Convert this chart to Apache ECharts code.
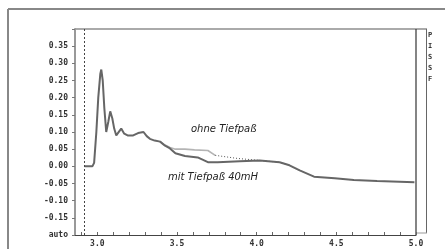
<!DOCTYPE html>
<html><head><meta charset="utf-8">
<script src="https://cdn.jsdelivr.net/npm/echarts@6/dist/echarts.min.js"></script>
<style>html,body{margin:0;padding:0;background:#fff}#c{width:445px;height:249px}</style>
</head><body><div id="c"></div>
<script>
// Data
var mitX = [2.92,2.969,2.98,2.994,3.006,3.019,3.025,3.034,3.044,3.056,3.069,3.081,3.094,3.106,3.119,3.131,3.15,3.169,3.19,3.225,3.256,3.29,3.31,3.33,3.36,3.394,3.425,3.456,3.49,3.55,3.63,3.694,3.756,3.894,4.019,4.144,4.206,4.27,4.36,4.49,4.61,4.756,4.99];
var mitY = [0.0,0.0,0.01,0.10,0.20,0.27,0.282,0.25,0.17,0.10,0.13,0.16,0.14,0.11,0.09,0.095,0.11,0.095,0.09,0.09,0.097,0.10,0.088,0.08,0.075,0.072,0.06,0.052,0.038,0.03,0.026,0.012,0.012,0.015,0.017,0.012,0.003,-0.012,-0.03,-0.035,-0.04,-0.043,-0.046];
var ohneX = [3.394,3.425,3.456,3.49,3.55,3.61,3.694,3.74];
var ohneY = [0.072,0.062,0.055,0.05,0.05,0.048,0.046,0.032];
var dotX = [3.74,3.88,4.0,4.14,4.2];
var dotY = [0.032,0.023,0.018,0.012,0.004];
var xLabels = [3.0,3.5,4.0,4.5,5.0];
var xTicks = [2.9,3.0,3.1,3.2,3.3,3.4,3.5,3.6,3.7,3.8,3.9,4.0,4.1,4.2,4.3,4.4,4.5,4.6,4.7,4.8,4.9,5.0];
var noteOhne = 'ohne Tiefpaß';
var noteMit = 'mit Tiefpaß 40mH';

function pairs(xs, ys){ return xs.map(function(x,i){ return [x, ys[i]]; }); }

var chart = echarts.init(document.getElementById('c'), null, {renderer:'canvas'});
var lblFont = {fontFamily:'DejaVu Sans Mono', fontWeight:'bold', fontSize:8, color:'#333'};
chart.setOption({
  animation:false,
  backgroundColor:'#fff',
  grid:{left:75,right:29,top:29,bottom:14,containLabel:false},
  xAxis:{type:'value',min:2.86,max:5.0,
    axisLine:{show:true,onZero:false,lineStyle:{color:'#444',width:1.2}},
    axisTick:{show:true,inside:true,length:3,customValues:xTicks,lineStyle:{color:'#666'}},
    axisLabel:Object.assign({customValues:xLabels,margin:5,formatter:function(v){return v.toFixed(1);}},lblFont),
    splitLine:{show:false}},
  yAxis:{type:'value',min:-0.2,max:0.4,interval:0.05,
    axisLine:{show:true,onZero:false,lineStyle:{color:'#999',width:2}},
    axisTick:{show:true,length:3,lineStyle:{color:'#777'}},
    axisLabel:Object.assign({margin:7,formatter:function(v){
      if (Math.abs(v+0.2)<1e-6) return 'auto';
      if (Math.abs(v-0.4)<1e-6) return '';
      return v.toFixed(2);
    }},lblFont),
    splitLine:{show:false}},
  series:[
    {type:'line',data:pairs(ohneX,ohneY),symbol:'none',lineStyle:{color:'#b4b4b4',width:1.6},z:2},
    {type:'line',data:pairs(dotX,dotY),symbol:'none',lineStyle:{color:'#555',width:1,type:[1,2]},z:2},
    {type:'line',data:pairs(mitX,mitY),symbol:'none',lineStyle:{color:'#666',width:2},z:3,
      markLine:{silent:true,symbol:'none',label:{show:false},lineStyle:{color:'#444',type:[2,2],width:1},data:[{xAxis:2.925}]}}
  ],
  graphic:[
    {type:'line',shape:{x1:8,y1:9,x2:445,y2:9},style:{stroke:'#888',lineWidth:2}},
    {type:'line',shape:{x1:8,y1:9,x2:8,y2:249},style:{stroke:'#888',lineWidth:2}},
    {type:'line',shape:{x1:75,y1:29,x2:427,y2:29},style:{stroke:'#aaa',lineWidth:2}},
    {type:'line',shape:{x1:416,y1:29,x2:416,y2:235},style:{stroke:'#333',lineWidth:1.2}},
    {type:'line',shape:{x1:426.5,y1:29,x2:426.5,y2:233},style:{stroke:'#666',lineWidth:1}},
    {type:'line',shape:{x1:416,y1:233,x2:427,y2:233},style:{stroke:'#999',lineWidth:1}},
    {type:'text',x:428,y:30,style:{text:'P\nI\nS\nS\nF',font:'bold 7px DejaVu Sans Mono',fill:'#333',lineHeight:11}},
    {type:'text',x:191,y:124,style:{text:noteOhne,font:'italic 10px DejaVu Sans',fill:'#222'}},
    {type:'text',x:168,y:172,style:{text:noteMit,font:'italic 10px DejaVu Sans',fill:'#222'}}
  ]
});
</script></body></html>
